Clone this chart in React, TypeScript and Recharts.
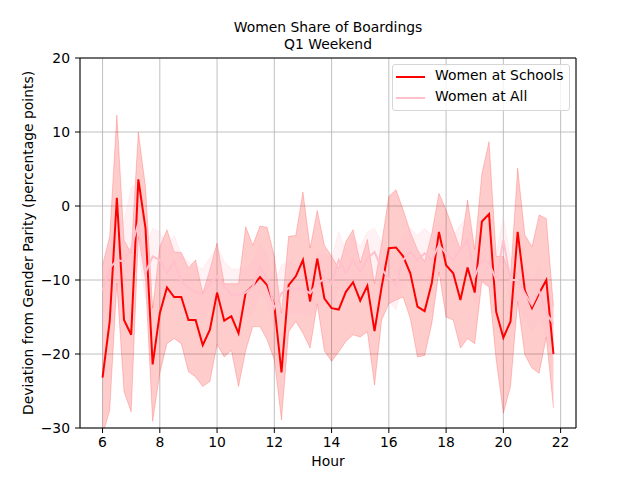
import React from 'react';
import {
  ComposedChart,
  Area,
  Line,
  XAxis,
  YAxis,
  CartesianGrid,
  ReferenceLine,
} from 'recharts';

const hours = [
  6, 6.25, 6.5, 6.75, 7, 7.25, 7.5, 7.75, 8, 8.25, 8.5, 8.75, 9, 9.25, 9.5, 9.75,
  10, 10.25, 10.5, 10.75, 11, 11.25, 11.5, 11.75, 12, 12.25, 12.5, 12.75, 13, 13.25, 13.5, 13.75,
  14, 14.25, 14.5, 14.75, 15, 15.25, 15.5, 15.75, 16, 16.25, 16.5, 16.75, 17, 17.25, 17.5, 17.75,
  18, 18.25, 18.5, 18.75, 19, 19.25, 19.5, 19.75, 20, 20.25, 20.5, 20.75, 21, 21.25, 21.5, 21.75,
];

// Women at Schools (mean + CI)
const schools = [
  -23.2, -15.6, 1.1, -15.4, -17.4, 3.6, -3.0, -21.4, -14.5, -11.0, -12.3, -12.3, -15.4, -15.4, -18.8, -16.7,
  -11.7, -15.5, -14.9, -17.2, -11.7, -10.8, -9.6, -10.7, -13.4, -22.5, -10.7, -9.5, -7.3, -12.9, -7.1, -12.5,
  -13.8, -14.0, -11.6, -10.3, -12.8, -10.8, -16.9, -10.9, -5.7, -5.6, -6.8, -9.1, -13.6, -14.2, -10.4, -3.5,
  -8.0, -9.1, -12.7, -8.3, -11.7, -2.1, -1.1, -14.3, -17.8, -15.6, -3.5, -11.4, -13.8, -11.8, -10.0, -20.0,
];
const schoolsHigh = [
  -8.0, -4.1, 12.3, -4.6, -6.4, 10.0, 2.6, -13.8, -5.5, -3.2, -6.2, -6.3, -8.4, -7.3, -11.8, -8.6,
  -5.0, -10.5, -10.5, -10.5, -2.8, -5.3, -2.7, -2.9, -6.8, -14.5, -4.1, -4.0, 1.9, -5.7, -0.6, -5.3,
  -6.8, -8.4, -4.8, -3.2, -7.7, -4.5, -10.5, -5.0, 1.3, 2.2, -0.5, -3.5, -5.9, -7.5, -3.7, 1.7,
  -0.5, -3.2, -5.9, 0.8, -5.9, 4.4, 8.7, -6.8, -6.8, -9.5, 5.1, -3.9, -5.5, -1.2, -1.7, -13.6,
];
const schoolsLow = [
  -31.0, -27.6, -10.4, -25.1, -27.8, -4.1, -10.0, -29.1, -22.6, -18.6, -17.9, -18.6, -22.4, -23.1, -24.4, -23.7,
  -18.7, -20.4, -19.5, -24.4, -19.5, -16.3, -16.3, -18.1, -20.8, -28.9, -17.0, -15.6, -17.2, -19.2, -13.2, -19.6,
  -21.0, -19.7, -18.3, -17.4, -17.7, -17.0, -24.2, -15.4, -13.2, -12.7, -12.3, -15.2, -20.4, -20.2, -15.9, -8.9,
  -15.0, -15.4, -19.2, -17.9, -18.6, -10.2, -10.9, -20.8, -28.0, -24.4, -12.9, -20.1, -21.9, -22.6, -17.7, -27.3,
];

// Women at All (mean + CI)
const allStops = [
  -11.5, -8.4, -7.3, -7.5, -5.7, -2.3, -9.0, -6.8, -7.3, -9.1, -7.5, -10.2, -11.1, -11.6, -12.0, -10.5,
  -9.5, -10.9, -12.0, -12.0, -11.7, -10.9, -8.2, -9.8, -13.8, -11.8, -11.1, -11.3, -11.2, -11.8, -10.5, -9.8,
  -10.5, -7.3, -9.1, -7.3, -8.9, -7.1, -6.2, -8.5, -9.8, -10.7, -7.3, -6.2, -7.3, -6.4, -7.3, -5.3,
  -6.4, -7.3, -5.9, -4.6, -9.5, -7.3, -7.7, -10.0, -4.6, -10.0, -10.0, -11.8, -13.4, -11.4, -14.5, -15.9,
];
const allHigh = [
  -8.0, -4.5, -3.0, -2.0, 2.5, 3.0, -5.5, -3.0, -3.5, -5.5, -4.0, -6.5, -7.5, -8.0, -8.5, -7.0,
  -5.5, -7.5, -8.5, -8.5, -8.5, -7.5, -5.0, -6.5, -10.5, -8.0, -7.5, -8.0, -7.5, -8.5, -6.5, -6.5,
  -7.0, -3.5, -6.0, -4.0, -5.5, -3.5, -3.0, -5.0, -6.5, -7.5, -4.0, -3.0, -4.0, -3.0, -4.0, -2.0,
  -3.0, -4.0, -2.5, -1.5, -6.0, -4.0, -4.5, -6.5, -1.5, -7.0, -6.5, -8.5, -10.0, -8.0, -11.0, -12.0,
];
const allLow = [
  -15.0, -12.0, -11.0, -11.0, -9.0, -6.0, -12.5, -10.5, -11.0, -12.5, -11.0, -13.5, -14.5, -15.0, -15.5, -14.0,
  -13.0, -14.5, -15.5, -15.5, -15.0, -14.5, -11.5, -13.0, -17.0, -15.5, -14.5, -14.5, -14.5, -15.0, -14.0, -13.0,
  -14.0, -11.0, -12.5, -10.5, -12.5, -10.5, -9.5, -12.0, -13.0, -14.0, -10.5, -9.5, -10.5, -10.0, -10.5, -8.5,
  -10.0, -10.5, -9.5, -8.0, -13.0, -10.5, -11.0, -13.5, -8.0, -13.0, -13.5, -15.0, -17.0, -15.0, -18.0, -20.0,
];

const xTicks = [6, 8, 10, 12, 14, 16, 18, 20, 22];
const yTicks = [-30, -20, -10, 0, 10, 20];

const data = hours.map((h, i) => ({
  hour: h,
  schools: schools[i],
  schoolsBand: [schoolsLow[i], schoolsHigh[i]],
  all: allStops[i],
  allBand: [allLow[i], allHigh[i]],
}));

const font = '"DejaVu Sans", sans-serif';
const fmt = (v: number) => (v < 0 ? '\u2212' + Math.abs(v) : String(v));

export default function App() {
  return (
    <div style={{ position: 'absolute', left: 0, top: 0, width: 640, height: 480, background: '#fff', fontFamily: font }}>
      <ComposedChart
        width={640}
        height={480}
        data={data}
        margin={{ top: 58, right: 64, bottom: 22, left: 30 }}
      >
        <CartesianGrid stroke="#b0b0b0" strokeWidth={0.8} />
        <XAxis
          dataKey="hour"
          type="number"
          domain={[5.2125, 22.5375]}
          ticks={xTicks}
          allowDataOverflow
          height={30}
          tickSize={5}
          tickMargin={4}
          stroke="#000"
          tick={{ fill: '#000', fontSize: 13.9, fontFamily: font }}
        />
        <YAxis
          type="number"
          domain={[-30, 20]}
          ticks={yTicks}
          allowDataOverflow
          width={50}
          tickSize={5}
          tickMargin={5}
          stroke="#000"
          tickFormatter={fmt}
          tick={{ fill: '#000', fontSize: 13.9, fontFamily: font }}
        />
        <ReferenceLine y={20} stroke="#000" />
        <ReferenceLine x={22.5375} stroke="#000" />
        <Area
          dataKey="schoolsBand"
          type="linear"
          fill="rgba(255,0,0,0.2)"
          fillOpacity={1}
          stroke="rgba(255,0,0,0.2)"
          strokeWidth={1}
          isAnimationActive={false}
          dot={false}
          activeDot={false}
        />
        <Line
          dataKey="schools"
          type="linear"
          stroke="#ff0000"
          strokeWidth={2}
          dot={false}
          activeDot={false}
          isAnimationActive={false}
        />
        <Area
          dataKey="allBand"
          type="linear"
          fill="rgba(255,192,203,0.2)"
          fillOpacity={1}
          stroke="rgba(255,192,203,0.2)"
          strokeWidth={1}
          isAnimationActive={false}
          dot={false}
          activeDot={false}
        />
        <Line
          dataKey="all"
          type="linear"
          stroke="#ffc0cb"
          strokeWidth={2}
          dot={false}
          activeDot={false}
          isAnimationActive={false}
        />
      </ComposedChart>

      <div style={{ position: 'absolute', left: 0, width: 656, top: 19, textAlign: 'center', fontSize: 13.9, lineHeight: '17px' }}>
        Women Share of Boardings
        <br />
        Q1 Weekend
      </div>
      <div style={{ position: 'absolute', left: 0, width: 656, top: 453, textAlign: 'center', fontSize: 13.9 }}>
        Hour
      </div>
      <div
        style={{
          position: 'absolute',
          left: 28,
          top: 243,
          transform: 'translate(-50%, -50%) rotate(-90deg)',
          whiteSpace: 'nowrap',
          fontSize: 13.9,
        }}
      >
        Deviation from Gender Parity (percentage points)
      </div>

      <div
        style={{
          position: 'absolute',
          left: 392,
          top: 64,
          width: 176,
          height: 45,
          border: '1px solid #d6d6d6',
          borderRadius: 3,
          background: 'rgba(255,255,255,0.8)',
          fontSize: 13.9,
        }}
      >
        <div style={{ position: 'absolute', left: 3, top: 11, width: 29, height: 2, background: '#ff0000' }} />
        <div style={{ position: 'absolute', left: 42, top: 2, whiteSpace: 'nowrap' }}>Women at Schools</div>
        <div style={{ position: 'absolute', left: 3, top: 32, width: 29, height: 2, background: '#ffc0cb' }} />
        <div style={{ position: 'absolute', left: 42, top: 23, whiteSpace: 'nowrap' }}>Women at All</div>
      </div>
    </div>
  );
}
